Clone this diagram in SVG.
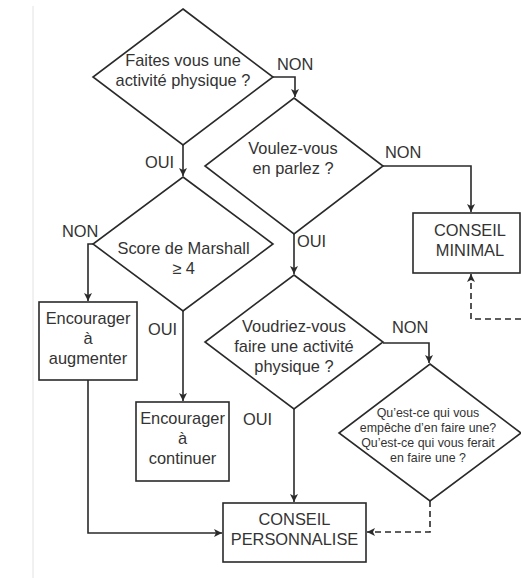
<svg xmlns="http://www.w3.org/2000/svg" width="521" height="578" viewBox="0 0 521 578">
<style>
.shape{fill:#fff;stroke:#2a2a2a;stroke-width:1.6}
.t{font-family:"Liberation Sans",Arial,sans-serif;font-size:16.4px;fill:#333;text-anchor:middle}
.s{font-family:"Liberation Sans",Arial,sans-serif;font-size:12.4px;fill:#333;text-anchor:middle}
.lbl{font-family:"Liberation Sans",Arial,sans-serif;font-size:16.4px;fill:#333}
.c{fill:none;stroke:#2a2a2a;stroke-width:1.6;marker-end:url(#arr)}
.d{fill:none;stroke:#2a2a2a;stroke-width:1.6;stroke-dasharray:6,4;marker-end:url(#arr)}
</style>
<defs>
<marker id="arr" markerUnits="userSpaceOnUse" markerWidth="9" markerHeight="9" refX="8" refY="4.5" orient="auto">
<path d="M0,0.5 L8,4.5 L0,8.5 L2,4.5 z" fill="#2a2a2a"/>
</marker>
</defs>
<rect width="521" height="578" fill="#fff"/>
<line x1="33" y1="6" x2="33" y2="578" stroke="#e2e2e2" stroke-width="1"/>

<g id="connectors">
<path class="c" d="M273,77 H295 V97"/>
<path class="c" d="M183,145 V176"/>
<path class="c" d="M383,166 H471 V212"/>
<path class="c" d="M294,233 V274"/>
<path class="c" d="M93,244 H88 V301"/>
<path class="c" d="M183,311 V401"/>
<path class="c" d="M88,380 V533 H222"/>
<path class="c" d="M294,409 V502"/>
<path class="c" d="M383,343 H429 V363"/>
<path class="d" d="M430,501 V532 H367"/>
<path class="d" d="M521,319 H471 V274"/>
<text class="lbl" x="277" y="70">NON</text>
<text class="lbl" x="145" y="168">OUI</text>
<text class="lbl" x="385" y="158">NON</text>
<text class="lbl" x="297" y="247">OUI</text>
<text class="lbl" x="62" y="237">NON</text>
<text class="lbl" x="148" y="335">OUI</text>
<text class="lbl" x="243" y="425">OUI</text>
<text class="lbl" x="392" y="333">NON</text>
</g>

<g id="q1">
<polygon class="shape" points="183,9 273,77 183,145 93,77"/>
<text class="t" x="183" y="66">Faites vous une</text>
<text class="t" x="183" y="86">activité physique ?</text>
</g>

<g id="q2">
<polygon class="shape" points="294,98 383,166 294,234 205,166"/>
<text class="t" x="293" y="154">Voulez-vous</text>
<text class="t" x="293" y="174">en parlez ?</text>
</g>

<g id="q3">
<polygon class="shape" points="183,177 273,244 183,311 93,244"/>
<text class="t" x="183.5" y="254">Score de Marshall</text>
<text class="t" x="183.5" y="274">≥ 4</text>
</g>

<g id="q4">
<polygon class="shape" points="294,275 383,342 294,409 205,342"/>
<text class="t" x="294" y="332">Voudriez-vous</text>
<text class="t" x="294" y="352">faire une activité</text>
<text class="t" x="294" y="372">physique ?</text>
</g>

<g id="q5">
<polygon class="shape" points="430,364 521,433 430,501 339,433"/>
<text class="s" x="428" y="416.5">Qu’est-ce qui vous</text>
<text class="s" x="428" y="431.5">empêche d’en faire une?</text>
<text class="s" x="428" y="446.5">Qu’est-ce qui vous ferait</text>
<text class="s" x="428" y="462">en faire une ?</text>
</g>

<g id="minimal">
<rect class="shape" x="413" y="213" width="107" height="60"/>
<text class="t" x="470" y="236">CONSEIL</text>
<text class="t" x="470" y="256">MINIMAL</text>
</g>

<g id="augmenter">
<rect class="shape" x="39" y="302" width="98" height="78"/>
<text class="t" x="88" y="324">Encourager</text>
<text class="t" x="88" y="344">à</text>
<text class="t" x="88" y="364">augmenter</text>
</g>

<g id="continuer">
<rect class="shape" x="136" y="402" width="93" height="79"/>
<text class="t" x="182.5" y="424">Encourager</text>
<text class="t" x="182.5" y="444">à</text>
<text class="t" x="182.5" y="464">continuer</text>
</g>

<g id="personnalise">
<rect class="shape" x="223" y="503" width="143" height="59"/>
<text class="t" x="294.5" y="525">CONSEIL</text>
<text class="t" x="294.5" y="545">PERSONNALISE</text>
</g>
</svg>
